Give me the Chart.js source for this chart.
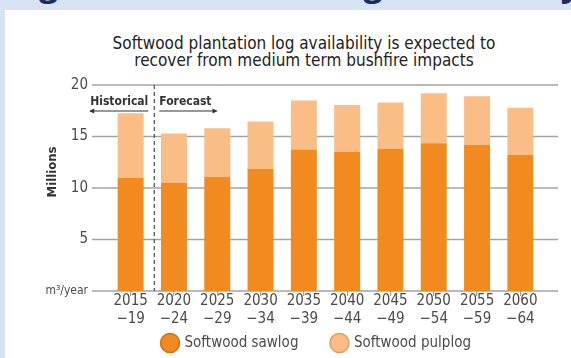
<!DOCTYPE html>
<html>
<head>
<meta charset="utf-8">
<script src="https://cdn.jsdelivr.net/npm/chart.js@4.4.1/dist/chart.umd.min.js"></script>
<style>
  html, body { margin: 0; padding: 0; }
  body { width: 571px; height: 358px; position: relative; overflow: hidden; background: #d5e3f5;
         font-family: "Liberation Sans Narrow", "DejaVu Sans Condensed", "Open Sans", sans-serif; }
  #heading { position: absolute; left: 10px; top: -40px; white-space: nowrap; font: bold 34px "Open Sans", sans-serif; color: #1d2b5e; }
  #panel { position: absolute; left: 5px; top: 10px; right: 0; bottom: 0; background: #ffffff; }
  #title { position: absolute; left: 104px; width: 400px; top: 35px; text-align: center; font-size: 17px; line-height: 17px; color: #222; }
  #wrap { position: absolute; left: 0; top: 0; width: 571px; height: 358px; }
</style>
</head>
<body>
<div id="heading">Figure 6: Softwood log availability</div>
<div id="panel"></div>
<div id="title">Softwood plantation log availability is expected to<br>recover from medium term bushfire impacts</div>
<div id="wrap"><canvas id="chart" width="571" height="358"></canvas></div>
<script>
// Five-year periods (start year, end year suffix)
const periods = [
  ['2015', '\u221219'], ['2020', '\u221224'], ['2025', '\u221229'], ['2030', '\u221234'], ['2035', '\u221239'],
  ['2040', '\u221244'], ['2045', '\u221249'], ['2050', '\u221254'], ['2055', '\u221259'], ['2060', '\u221264']
];
// Log availability, millions of m3 per year
const sawlog  = [11.0, 10.5, 11.1, 11.85, 13.75, 13.5, 13.8, 14.35, 14.2, 13.2];
const pulplog = [6.25, 4.8, 4.7, 4.6, 4.75, 4.55, 4.5, 4.85, 4.7, 4.6];
const yTicks = [0, 5, 10, 15, 20];
const yUnitLabel = 'm\u00b3/year';
const seriesNames = ['Softwood sawlog', 'Softwood pulplog'];
const periodNotes = ['Historical', 'Forecast'];

const FONT = '"Liberation Sans Narrow", "DejaVu Sans Condensed", "Open Sans", sans-serif';
const SAW = '#f28b1f';
const PULP = '#fbbd86';
const SAW_EDGE = '#cf6f12';
const PULP_EDGE = '#e59c5e';

// Horizontal rules spanning a little beyond the bar band
const fullGrid = {
  id: 'fullGrid',
  beforeDatasetsDraw(chart) {
    const { ctx, chartArea, scales: { y } } = chart;
    ctx.save();
    ctx.strokeStyle = '#a3a3a3';
    ctx.lineWidth = 1.5;
    yTicks.forEach(v => {
      const py = y.getPixelForValue(v);
      ctx.beginPath();
      ctx.moveTo(chartArea.left - 17, py);
      ctx.lineTo(chartArea.right + 16, py);
      ctx.stroke();
    });
    ctx.restore();
  }
};

// Dashed divider between historical and forecast periods, with arrowed labels
const periodDivider = {
  id: 'periodDivider',
  afterDatasetsDraw(chart) {
    const { ctx, chartArea, scales: { x } } = chart;
    const dx = (x.getPixelForValue(0) + x.getPixelForValue(1)) / 2 + 2;
    ctx.save();
    ctx.strokeStyle = '#555';
    ctx.lineWidth = 1.3;
    ctx.setLineDash([4, 3]);
    ctx.beginPath();
    ctx.moveTo(dx, chartArea.top);
    ctx.lineTo(dx, chartArea.bottom);
    ctx.stroke();
    ctx.setLineDash([]);

    ctx.font = 'bold 12px ' + FONT;
    ctx.fillStyle = '#333';
    ctx.textBaseline = 'alphabetic';
    const ty = chartArea.top + 20;
    const ay = chartArea.top + 26;
    ctx.textAlign = 'right';
    ctx.fillText(periodNotes[0], dx - 6, ty);
    const lw = ctx.measureText(periodNotes[0]).width;
    const lx0 = dx - 6 - lw;
    ctx.strokeStyle = '#333';
    ctx.lineWidth = 1.2;
    ctx.beginPath(); ctx.moveTo(lx0, ay); ctx.lineTo(dx - 6, ay); ctx.stroke();
    ctx.beginPath(); ctx.moveTo(lx0 - 1, ay); ctx.lineTo(lx0 + 4, ay - 2.5); ctx.lineTo(lx0 + 4, ay + 2.5); ctx.closePath(); ctx.fill();
    ctx.textAlign = 'left';
    ctx.fillText(periodNotes[1], dx + 5, ty);
    const rw = ctx.measureText(periodNotes[1]).width;
    const rx1 = dx + 5 + rw + 5;
    ctx.beginPath(); ctx.moveTo(dx + 5, ay); ctx.lineTo(rx1, ay); ctx.stroke();
    ctx.beginPath(); ctx.moveTo(rx1 + 1, ay); ctx.lineTo(rx1 - 4, ay - 2.5); ctx.lineTo(rx1 - 4, ay + 2.5); ctx.closePath(); ctx.fill();
    ctx.restore();
  }
};

// Rotated axis caption
const axisCaption = {
  id: 'axisCaption',
  afterDraw(chart) {
    const { ctx } = chart;
    ctx.save();
    ctx.translate(53, 172);
    ctx.rotate(-Math.PI / 2);
    ctx.font = 'bold 13px ' + FONT;
    ctx.fillStyle = '#333';
    ctx.textAlign = 'center';
    ctx.textBaseline = 'middle';
    ctx.fillText('Millions', 0, 0);
    ctx.restore();
  }
};

// Circle-marker legend centred under the plot
const circleLegend = {
  id: 'circleLegend',
  afterDraw(chart) {
    const { ctx } = chart;
    const edges = [SAW_EDGE, PULP_EDGE];
    const r = 9.5, box = 14, gapText = 7.5, gapItem = 34, cy = 343;
    ctx.save();
    ctx.font = '15px ' + FONT;
    const items = chart.data.datasets.map((ds, i) => ({ ds, edge: edges[i], w: ctx.measureText(ds.label).width }));
    const total = items.reduce((s, it) => s + box + gapText + it.w, 0) + gapItem * (items.length - 1);
    let x = 317 - total / 2;
    items.forEach(it => {
      const cx = x + box / 2;
      ctx.beginPath();
      ctx.arc(cx, cy, r, 0, Math.PI * 2);
      ctx.fillStyle = it.ds.backgroundColor;
      ctx.fill();
      ctx.lineWidth = 1.5;
      ctx.strokeStyle = it.edge;
      ctx.stroke();
      ctx.fillStyle = '#4a4a4a';
      ctx.textAlign = 'left';
      ctx.textBaseline = 'middle';
      ctx.fillText(it.ds.label, x + box + gapText, cy);
      x += box + gapText + it.w + gapItem;
    });
    ctx.restore();
  }
};

new Chart(document.getElementById('chart'), {
  type: 'bar',
  data: {
    labels: periods,
    datasets: [
      { label: seriesNames[0], data: sawlog, backgroundColor: SAW, borderWidth: 0 },
      { label: seriesNames[1], data: pulplog, backgroundColor: PULP, borderWidth: 0 }
    ]
  },
  options: {
    responsive: false,
    animation: false,
    layout: { padding: { left: 40, right: 29, top: 85, bottom: 30 } },
    datasets: { bar: { barPercentage: 0.6, categoryPercentage: 1.0 } },
    scales: {
      x: {
        stacked: true,
        afterFit: s => { s.height = 37; },
        grid: { display: true, drawOnChartArea: false, drawTicks: true, tickLength: 5, offset: false, color: '#a3a3a3', lineWidth: 1.3 },
        border: { display: false },
        ticks: { font: { family: FONT, size: 15, lineHeight: 1.2 }, color: '#4a4a4a', padding: -4, maxRotation: 0, autoSkip: false }
      },
      y: {
        stacked: true,
        min: 0, max: 20,
        afterFit: s => { s.width = 69; },
        afterBuildTicks: s => { s.ticks = yTicks.map(v => ({ value: v })); },
        grid: { display: false, drawTicks: false },
        border: { display: false },
        ticks: {
          padding: 21,
          color: '#4a4a4a',
          font: ctx => ({ family: FONT, size: ctx.tick && ctx.tick.value === 0 ? 12 : 15 }),
          callback: v => (v === 0 ? yUnitLabel : String(v))
        }
      }
    },
    plugins: {
      title: { display: false },
      tooltip: { enabled: false },
      legend: { display: false }
    }
  },
  plugins: [fullGrid, periodDivider, axisCaption, circleLegend]
});
</script>
</body>
</html>
